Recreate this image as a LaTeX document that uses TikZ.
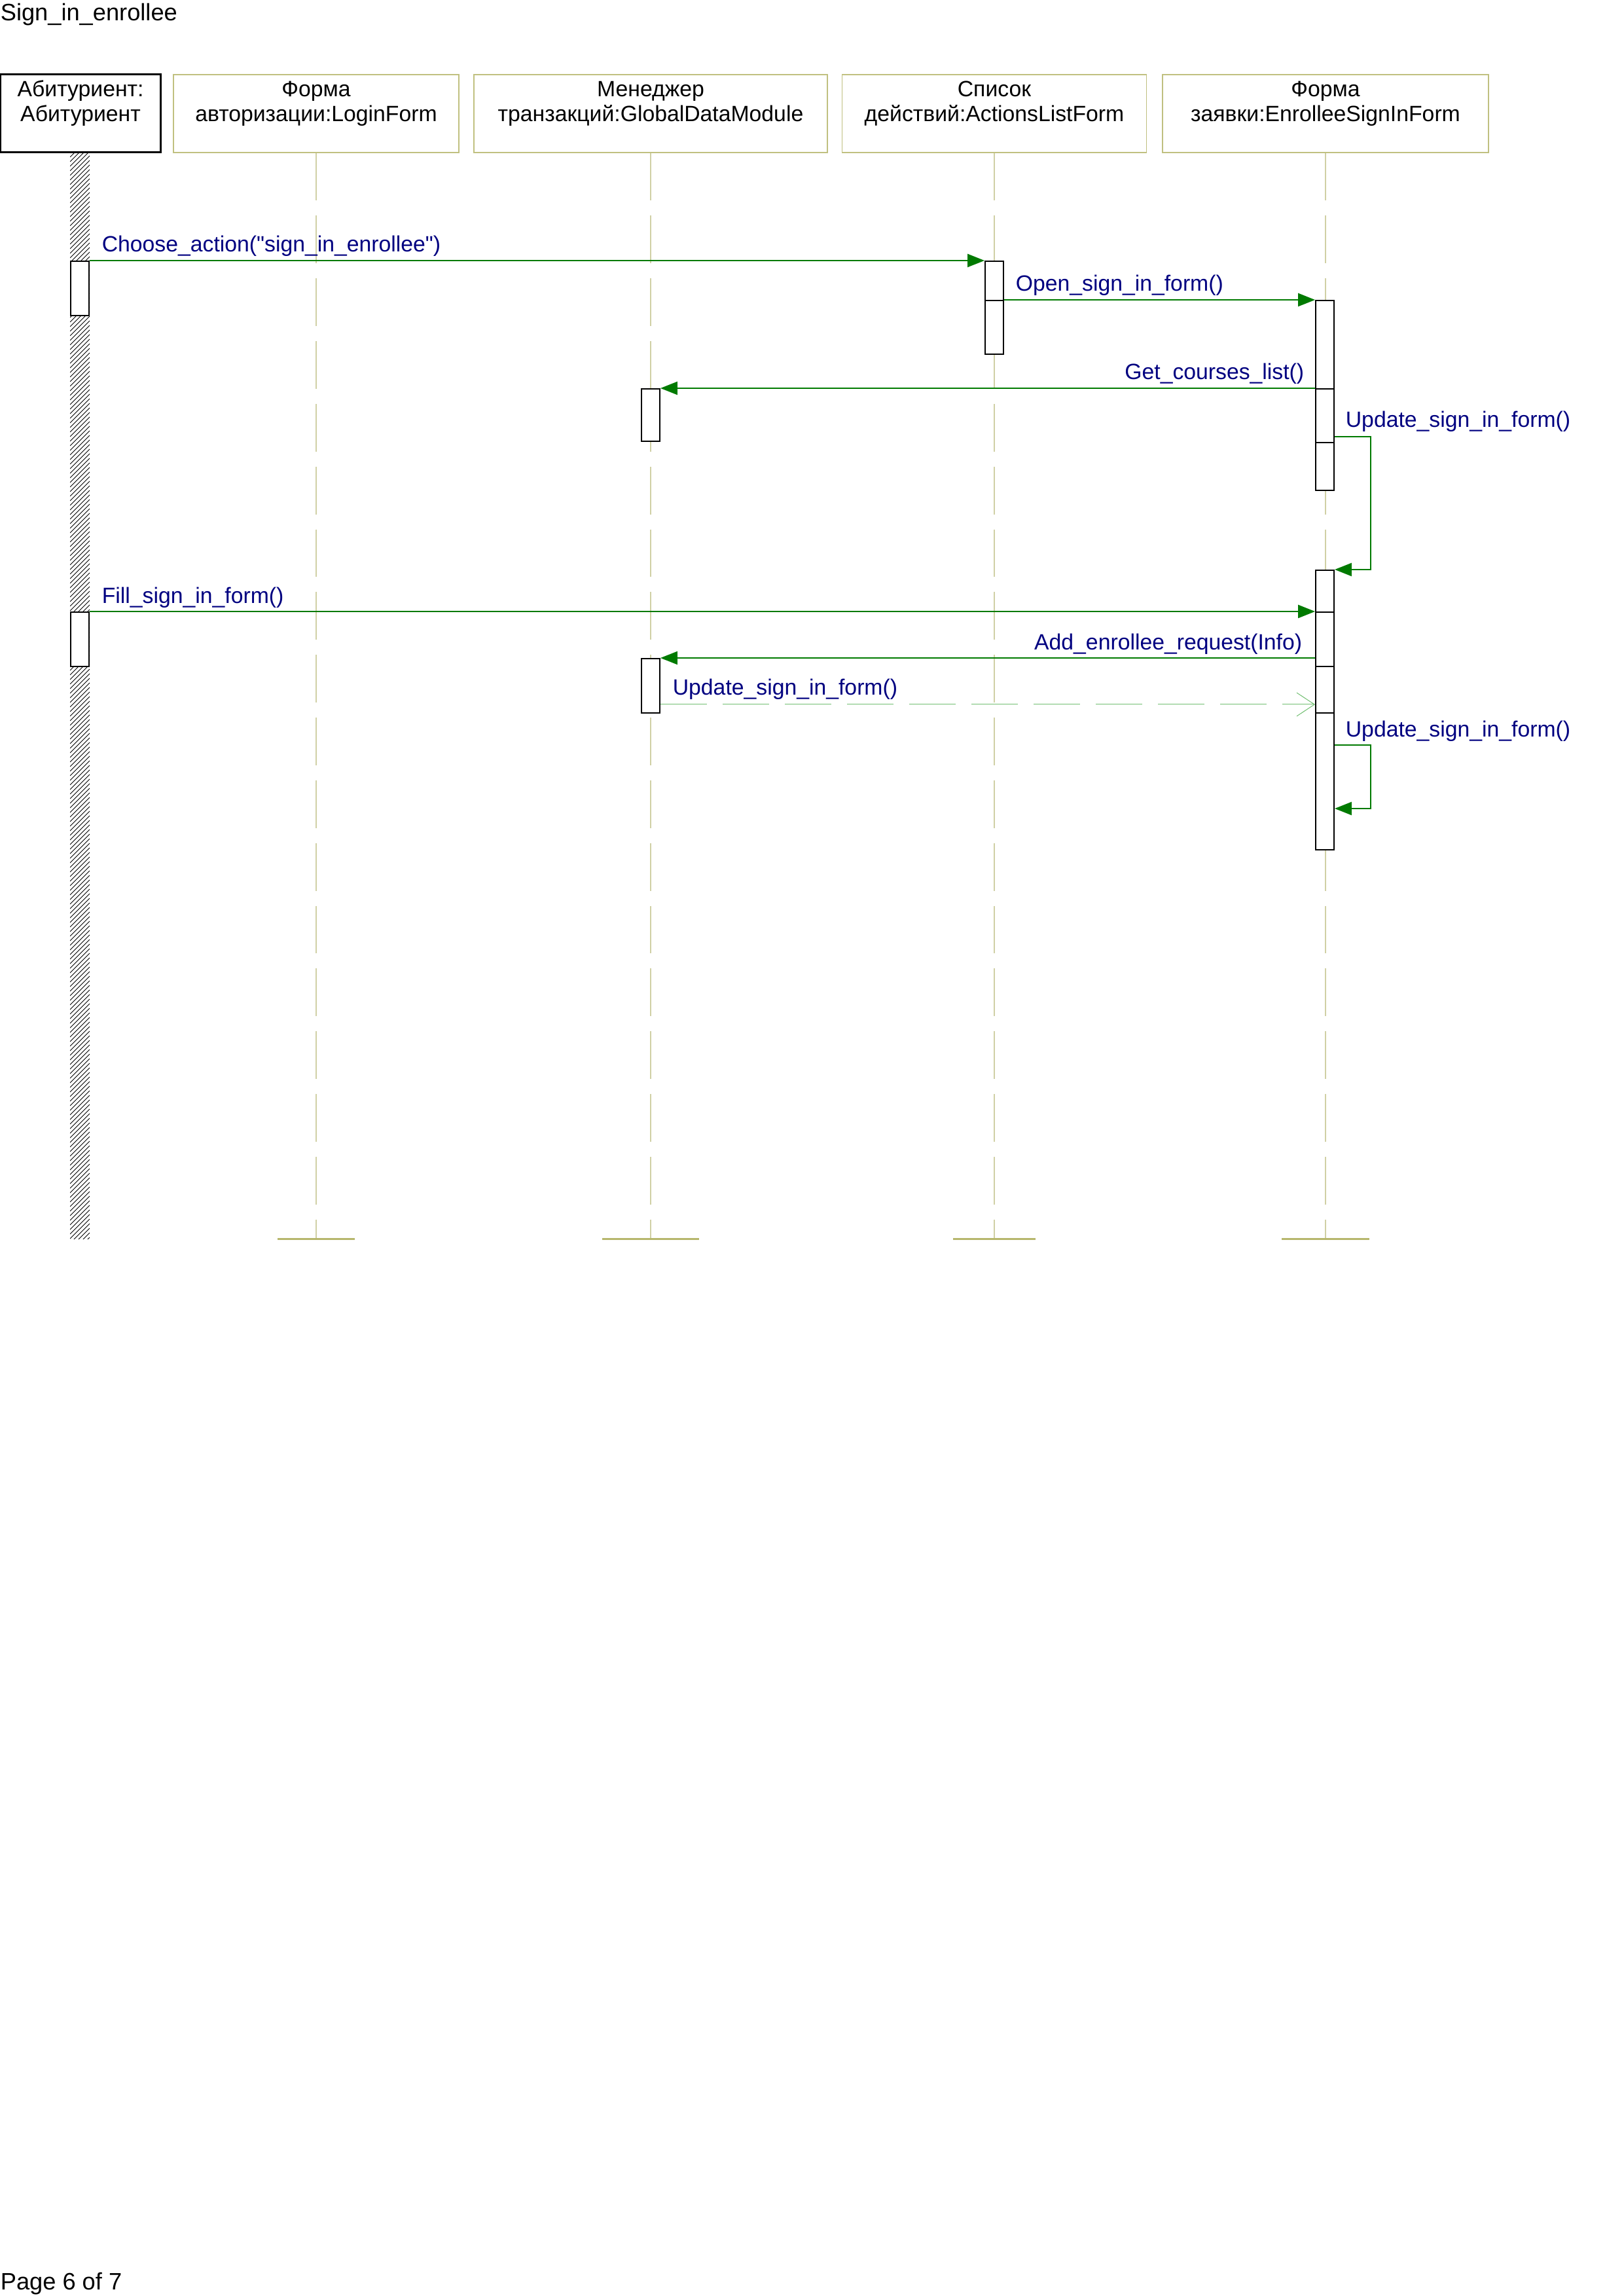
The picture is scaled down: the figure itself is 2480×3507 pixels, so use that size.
\documentclass[tikz,border=0pt]{standalone}
\usepackage{fontspec}
\setmainfont{Liberation Sans}[Ligatures=TeXOff]
\usepackage{tikz}
\usetikzlibrary{positioning, arrows.meta, calc}

\definecolor{msggreen}{RGB}{0,122,0}
\definecolor{retgreen}{RGB}{112,190,112}
\definecolor{lblnavy}{RGB}{0,0,128}
\definecolor{boxolive}{RGB}{192,192,128}
\definecolor{lineolive}{RGB}{208,208,165}
\definecolor{endolive}{RGB}{182,182,108}

\def\pu{0.24pt}
\def\lifebottom{1892}

\tikzset{
    hdbox/.style={draw=boxolive, line width=1.2*\pu, inner sep=0, minimum height=119*\pu},
    hdtext/.style={anchor=north, align=center, inner sep=0, font=\fontsize{8.1}{9.1}\selectfont},
    lifeline/.style={lineolive, line width=1.2*\pu, dash pattern=on 17.5pt off 5.5pt},
    lifeend/.style={endolive, line width=3*\pu},
    act/.style={draw=black, fill=white, line width=2*\pu, inner sep=0, minimum width=28*\pu, anchor=north},
    msg/.style={msggreen, line width=2*\pu, -{Triangle[length=6.2pt, width=4.8pt]}},
    retmsg/.style={retgreen, line width=1*\pu, dash pattern=on 17pt off 5.8pt, -{Straight Barb[length=6.5pt, width=8.6pt]}},
    lbl/.style={lblnavy, inner sep=0, font=\fontsize{8.1}{9.1}\selectfont},
    pagetext/.style={inner sep=0, anchor=base west, font=\fontsize{8.7}{10}\selectfont}
}

\begin{document}
\begin{tikzpicture}[x=0.24pt, y=-0.24pt]
    \useasboundingbox (0,0) rectangle (2480,3507);

    \node[pagetext] (title) at (0,32) {Sign\_in\_enrollee};
    \node[pagetext] (pageno) at (0,3497) {Page 6 of 7};

    % hatched lifeline of the actor
    \begin{scope}
        \clip (107,233) rectangle (137,\lifebottom);
        \foreach \k in {0,...,245}
        {
            \draw[black, line width=1*\pu] (107,233+7*\k) -- ++(30,-30);
        }
    \end{scope}

    % actor head
    \node[draw=black, line width=3*\pu, inner sep=0, minimum width=244*\pu, minimum height=119*\pu] (hActor) at (123,173.5) {};
    \node[hdtext] (hActor-txt) at (123,120.5) {\strut Абитуриент:\\Абитуриент};

    % object heads
    \foreach \name/\xc/\w/\txt in {
        hLogin/483/436/{Форма\\авторизации:LoginForm},
        hGdm/994/540/{Менеджер\\транзакций:GlobalDataModule},
        hList/1519/465/{Список\\действий:ActionsListForm},
        hForm/2025/498/{Форма\\заявки:EnrolleeSignInForm}}
    {
        \node[hdbox, minimum width=\w*\pu] (\name) at (\xc,173.5) {};
        \node[hdtext] (\name-txt) at (\xc,120.5) {\strut\txt};
    }

    % lifelines
    \foreach \name/\hw in {hLogin/59, hGdm/74, hList/63, hForm/67}
    {
        \coordinate (\name-end) at (\name.south |- 0,\lifebottom);
        \draw[lifeline] (\name.south) -- (\name-end);
        \draw[lifeend] ($(\name-end)+(-\hw,0)$) -- ($(\name-end)+(\hw,0)$);
    }

    % activations
    \node[act, minimum height=83*\pu] (ac1) at (122,398) {};
    \node[act, minimum height=83*\pu] (ac2) at (122,934) {};
    \node[act, minimum height=60*\pu] (al1) at (1519,398) {};
    \node[act, minimum height=82*\pu] (al2) at (1519,458) {};
    \node[act, minimum height=80*\pu] (gd1) at (994,593) {};
    \node[act, minimum height=83*\pu] (gd2) at (994,1005) {};
    \node[act, minimum height=135*\pu] (en1) at (2024,458) {};
    \node[act, minimum height=82*\pu] (en2) at (2024,593) {};
    \node[act, minimum height=73*\pu] (en3) at (2024,675) {};
    \node[act, minimum height=64*\pu] (en4) at (2024,870) {};
    \node[act, minimum height=83*\pu] (en5) at (2024,934) {};
    \node[act, minimum height=71*\pu] (en6) at (2024,1017) {};
    \node[act, minimum height=209*\pu] (en7) at (2024,1088) {};

    % messages
    \draw[msg] (ac1.north east) -- (al1.north west);
    \node[lbl, anchor=base west] (m1) at ($(ac1.north east)+(18,-13)$) {Choose\_action("sign\_in\_enrollee")};

    \draw[msg] (al2.north east) -- (en1.north west);
    \node[lbl, anchor=base west] (m2) at ($(al2.north east)+(17,-13)$) {Open\_sign\_in\_form()};

    \draw[msg] (en2.north west) -- (gd1.north east);
    \node[lbl, anchor=base east] (m3) at ($(en2.north west)+(-16,-13)$) {Get\_courses\_list()};

    \coordinate (s4) at ($(en3.north east)+(0,-8)$);
    \draw[msg] (s4) -- ++(55,0) |- (en4.north east);
    \node[lbl, anchor=base west] (m4) at ($(s4)+(16,-14)$) {Update\_sign\_in\_form()};

    \draw[msg] (ac2.north east) -- (en5.north west);
    \node[lbl, anchor=base west] (m5) at ($(ac2.north east)+(18,-12)$) {Fill\_sign\_in\_form()};

    \coordinate (s6) at (en5.west |- gd2.north);
    \draw[msg] (s6) -- (gd2.north east);
    \node[lbl, anchor=base east] (m6) at ($(s6)+(-19,-12)$) {Add\_enrollee\_request(Info)};

    \coordinate (s7) at ($(gd2.south east)+(0,-14)$);
    \draw[retmsg] (s7) -- (s7 -| en6.west);
    \node[lbl, anchor=base west] (m7) at ($(s7)+(18,-14)$) {Update\_sign\_in\_form()};

    \coordinate (s8) at ($(en7.north east)+(0,50)$);
    \draw[msg] (s8) -- ++(55,0) |- ($(en7.north east)+(0,147)$);
    \node[lbl, anchor=base west] (m8) at ($(s8)+(16,-13)$) {Update\_sign\_in\_form()};
\end{tikzpicture}
\end{document}
